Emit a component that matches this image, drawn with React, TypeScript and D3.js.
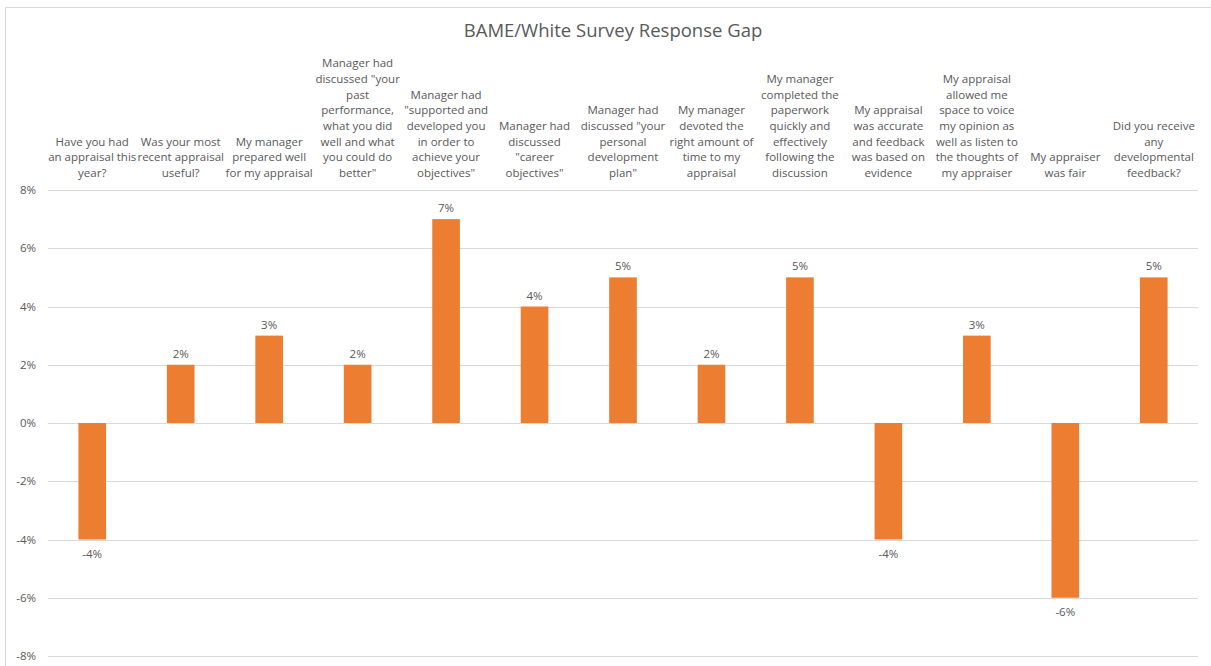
import { useEffect, useRef } from "react";
import * as d3 from "d3";

const title = "BAME/White Survey Response Gap";

// category labels, already broken into lines as in the original chart
const categories: string[][] = [
    ["Have you had", "an appraisal this", "year?"],
    ["Was your most", "recent appraisal", "useful?"],
    ["My manager", "prepared well", "for my appraisal"],
    ["Manager had", "discussed \"your", "past", "performance,", "what you did", "well and what", "you could do", "better\""],
    ["Manager had", "\"supported and", "developed you", "in order to", "achieve your", "objectives\""],
    ["Manager had", "discussed", "\"career", "objectives\""],
    ["Manager had", "discussed \"your", "personal", "development", "plan\""],
    ["My manager", "devoted the", "right amount of", "time to my", "appraisal"],
    ["My manager", "completed the", "paperwork", "quickly and", "effectively", "following the", "discussion"],
    ["My appraisal", "was accurate", "and feedback", "was based on", "evidence"],
    ["My appraisal", "allowed me", "space to voice", "my opinion as", "well as listen to", "the thoughts of", "my appraiser"],
    ["My appraiser", "was fair"],
    ["Did you receive", "any", "developmental", "feedback?"],
];

const gap = [-0.04, 0.02, 0.03, 0.02, 0.07, 0.04, 0.05, 0.02, 0.05, -0.04, 0.03, -0.06, 0.05];

const yTicks = [-0.08, -0.06, -0.04, -0.02, 0, 0.02, 0.04, 0.06, 0.08];

export default function App() {
    const svgRef = useRef<SVGSVGElement>(null);

    useEffect(() => {
        if (!svgRef.current) return;

        const W = 1211;
        const H = 666;
        const margin = { top: 190, right: 13, bottom: 10, left: 48 };
        const font = "'Open Sans', sans-serif";
        const textColor = "#595959";

        d3.select(svgRef.current).selectAll("*").remove();

        const svg = d3.select(svgRef.current).attr("width", W).attr("height", H);

        // chart border
        svg
            .append("rect")
            .attr("x", 5.5)
            .attr("y", 7.5)
            .attr("width", W + 20)
            .attr("height", H + 20)
            .attr("fill", "#fff")
            .attr("stroke", "#d9d9d9")
            .attr("stroke-width", 1);

        svg
            .append("text")
            .attr("x", 613)
            .attr("y", 37)
            .attr("text-anchor", "middle")
            .attr("font-family", font)
            .attr("font-size", 18.5)
            .attr("fill", textColor)
            .text(title);

        const x = d3
            .scaleBand<number>()
            .domain(d3.range(categories.length))
            .range([margin.left, 1198])
            .paddingInner(0.6875)
            .paddingOuter(0.34375);

        const y = d3
            .scaleLinear()
            .domain([-0.08, 0.08])
            .range([656, margin.top]);

        // Excel style percent with a plain hyphen for negatives
        const pct = (v: number) => d3.format(".0%")(v).replace("\u2212", "-");

        // gridlines
        svg
            .append("g")
            .selectAll("line")
            .data(yTicks)
            .join("line")
            .attr("x1", margin.left)
            .attr("x2", 1198)
            .attr("y1", (d) => Math.round(y(d)) + 0.5)
            .attr("y2", (d) => Math.round(y(d)) + 0.5)
            .attr("stroke", "#d9d9d9")
            .attr("stroke-width", 1.2);

        // y axis labels
        svg
            .append("g")
            .selectAll("text")
            .data(yTicks)
            .join("text")
            .attr("x", 36)
            .attr("y", (d) => y(d))
            .attr("dy", "0.35em")
            .attr("text-anchor", "end")
            .attr("font-family", font)
            .attr("font-size", 11.5)
            .attr("fill", textColor)
            .text((d) => pct(d));

        // category labels at the top, bottom aligned
        const lineH = 15.7;
        const lastLine = 177;
        const labels = svg
            .append("g")
            .selectAll("text")
            .data(categories)
            .join("text")
            .attr("text-anchor", "middle")
            .attr("font-family", font)
            .attr("font-size", 11.5)
            .attr("fill", textColor);

        labels
            .selectAll("tspan")
            .data((d, i) => d.map((line, j) => ({ line, j, n: d.length, i })))
            .join("tspan")
            .attr("x", (d) => (x(d.i) as number) + x.bandwidth() / 2)
            .attr("y", (d) => lastLine - (d.n - 1 - d.j) * lineH)
            .text((d) => d.line);

        // bars
        svg
            .append("g")
            .selectAll("rect")
            .data(gap)
            .join("rect")
            .attr("x", (d, i) => x(i) as number)
            .attr("width", x.bandwidth())
            .attr("y", (d) => y(Math.max(0, d)))
            .attr("height", (d) => Math.abs(y(d) - y(0)))
            .attr("fill", "#ed7d31");

        // data labels
        svg
            .append("g")
            .selectAll("text")
            .data(gap)
            .join("text")
            .attr("x", (d, i) => (x(i) as number) + x.bandwidth() / 2)
            .attr("y", (d) => (d >= 0 ? y(d) - 7 : y(d) + 18))
            .attr("text-anchor", "middle")
            .attr("font-family", font)
            .attr("font-size", 11.5)
            .attr("fill", textColor)
            .text((d) => pct(d));
    }, []);

    return (
        <svg
            ref={svgRef}
            style={{ position: "absolute", left: 0, top: 0, display: "block" }}
        />
    );
}
